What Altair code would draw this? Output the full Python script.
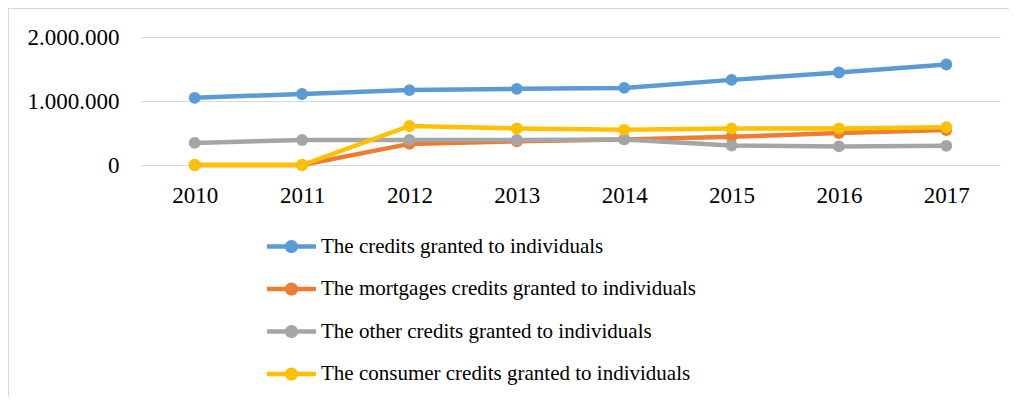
import altair as alt
import pandas as pd

years = ["2010", "2011", "2012", "2013", "2014", "2015", "2016", "2017"]
series_names = [
    "The credits granted to individuals",
    "The mortgages credits granted to individuals",
    "The other credits granted to individuals",
    "The consumer credits granted to individuals",
]
credits_total = [1050000, 1110000, 1170000, 1190000, 1205000, 1330000, 1445000, 1570000]
credits_mortgage = [0, 0, 330000, 370000, 400000, 440000, 500000, 545000]
credits_other = [345000, 390000, 390000, 390000, 400000, 305000, 290000, 300000]
credits_consumer = [0, 0, 610000, 570000, 550000, 570000, 570000, 590000]
colors = ["#5B9BD5", "#ED7D31", "#A5A5A5", "#FFC000"]

rows = []
for order, (name, vals) in enumerate(zip(series_names, [credits_total, credits_mortgage, credits_other, credits_consumer])):
    for y, v in zip(years, vals):
        rows.append({"year": y, "value": v, "series": name, "order": order})
df = pd.DataFrame(rows)

FONT = "Liberation Serif"

legend = alt.Legend(
    title=None,
    orient="none",
    legendX=126,
    legendY=185,
    direction="vertical",
    symbolType="M-1,-0.09L1,-0.09L1,0.09L-1,0.09Z M0.27,0A0.27,0.27 0 1,1 -0.27,0A0.27,0.27 0 1,1 0.27,0Z",
    symbolSize=2401,
    symbolStrokeWidth=0,
    symbolOpacity=1,
    labelFont=FONT,
    labelFontSize=21,
    labelColor="#000000",
    labelOffset=5,
    rowPadding=7.5,
    labelLimit=600,
)
color = alt.Color("series:N", scale=alt.Scale(domain=series_names, range=colors), legend=legend)

x = alt.X(
    "year:O",
    scale=alt.Scale(type="point", padding=0.5),
    axis=alt.Axis(
        title=None, labelAngle=0, domain=False, ticks=False, grid=False,
        labelFont=FONT, labelFontSize=23, labelColor="#000000", labelPadding=19,
    ),
)
y = alt.Y(
    "value:Q",
    scale=alt.Scale(domain=[0, 2000000]),
    axis=alt.Axis(
        title=None, values=[0, 1000000, 2000000], domain=False, ticks=False,
        grid=True, gridColor="#D9D9D9", gridWidth=1,
        labelFont=FONT, labelFontSize=23, labelColor="#000000", labelPadding=22,
        labelExpr="replace(replace(format(datum.value, ','), ',', '.'), ',', '.')",
    ),
)

base = alt.Chart(df)
lines = base.mark_line(strokeWidth=4.5).encode(x=x, y=y, color=color, order="order:Q", detail="series:N")
points = base.mark_point(filled=True, size=140, opacity=1).encode(x=x, y=y, color=color)

frame_df = pd.DataFrame({"k": [0]})
frame_left = alt.Chart(frame_df).mark_rule(color="#D9D9D9", strokeWidth=2).encode(
    x=alt.value(-133), y=alt.value(-29), y2=alt.value(400)
)
frame_top = alt.Chart(frame_df).mark_rule(color="#D9D9D9", strokeWidth=2).encode(
    x=alt.value(-133), x2=alt.value(900), y=alt.value(-29)
)

chart = (
    alt.layer(frame_left, frame_top, lines, points)
    .properties(
        width=859,
        height=128,
        autosize=alt.AutoSizeParams(type="none"),
        padding={"left": 133, "top": 29, "right": 9, "bottom": 232},
    )
    .configure(background="white")
    .configure_view(stroke=None)
    .configure_legend(labelFont=FONT, labelFontSize=21, labelColor="#000000")
)

chart.save("out.html", embed_options={"renderer": "svg", "actions": False})
